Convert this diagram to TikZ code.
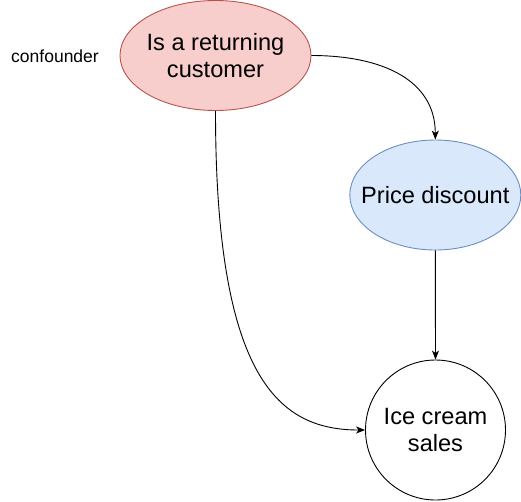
\documentclass[tikz,border=0pt]{standalone}
\usepackage{fontspec}
\setmainfont{Liberation Sans}
\usetikzlibrary{shapes.geometric,arrows.meta}
\definecolor{redfill}{HTML}{F8CECC}
\definecolor{redline}{HTML}{B85450}
\definecolor{bluefill}{HTML}{DAE8FC}
\definecolor{blueline}{HTML}{6C8EBF}
\begin{document}
\begin{tikzpicture}[x=1pt,y=-1pt,
  vnode/.style={ellipse,inner sep=0pt,line width=0.9pt},
  vtext/.style={label={[align=center,font=\fontsize{23.6}{27.5}\selectfont]center:#1}},
  link/.style={line width=0.9pt,-{Stealth[length=9pt,width=7pt,inset=2.5pt]}}]
\useasboundingbox (0,0) rectangle (521,501);
\node[vnode,draw=redline,fill=redfill,minimum width=191pt,minimum height=110pt,vtext={Is a returning\\customer}] (conf) at (215.5,55.5) {};
\node[vnode,draw=blueline,fill=bluefill,minimum width=171pt,minimum height=110pt,vtext={Price discount}] (disc) at (435.3,195) {};
\node[vnode,circle,draw=black,fill=white,minimum size=140pt,vtext={Ice cream\\sales}] (sales) at (435.5,430) {};
\node[font=\fontsize{17.5}{20}\selectfont] (lbl) at (55,56) {confounder};
\draw[link] (conf.east) .. controls +(70,0) and +(0,-60) .. (disc.north);
\draw[link] (disc.south) -- (sales.north);
\draw[link] (conf.south) .. controls +(0,270) and +(-85,0) .. (sales.west);
\end{tikzpicture}
\end{document}
